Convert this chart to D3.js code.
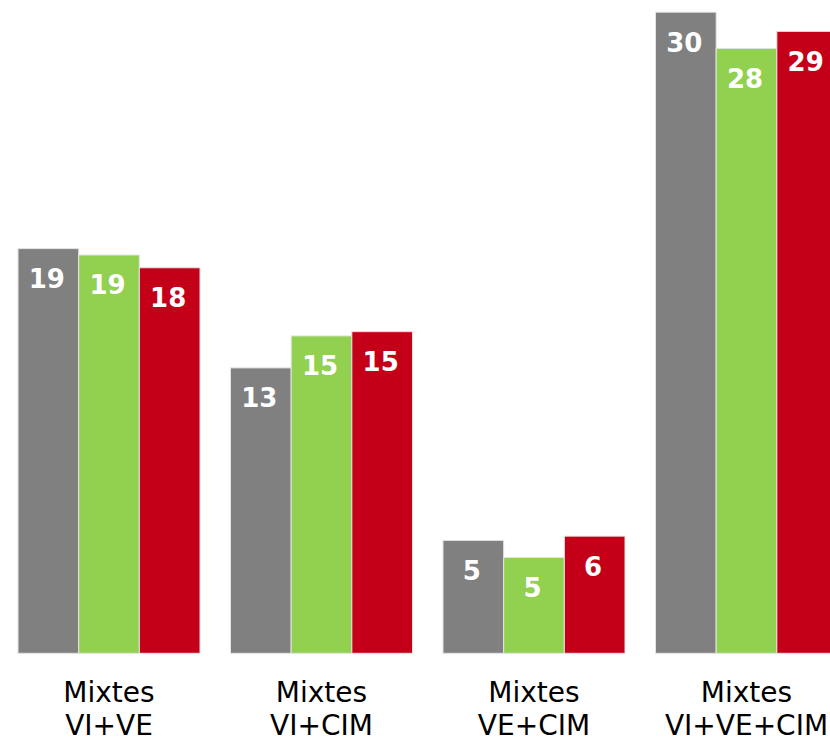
<!DOCTYPE html>
<html>
<head>
<meta charset="utf-8">
<script src="https://cdn.jsdelivr.net/npm/d3@7"></script>
<style>
html, body { margin: 0; padding: 0; background: #fff; overflow: hidden; }
svg { display: block; }
</style>
</head>
<body>
<script>
const categories = [["Mixtes", "VI+VE"], ["Mixtes", "VI+CIM"], ["Mixtes", "VE+CIM"], ["Mixtes", "VI+VE+CIM"]];
const seriesNames = ["s1", "s2", "s3"];
const seriesColors = ["#808080", "#92d050", "#c40018"];
const values1 = [19.0, 13.4, 5.3, 30.1];
const values2 = [18.7, 14.9, 4.5, 28.4];
const values3 = [18.1, 15.1, 5.5, 29.2];

const W = 830, H = 739;
const svg = d3.select("body").append("svg").attr("width", W).attr("height", H);

const allSeries = [values1, values2, values3];
const catKeys = categories.map((c, i) => i);

const x0 = d3.scaleBand().domain(catKeys).range([18, 837.5]).paddingInner(0.1435).paddingOuter(0);
const x1 = d3.scaleBand().domain(seriesNames).range([0, x0.bandwidth()]).padding(0);
const y = d3.scaleLinear().domain([0, 30]).range([653.3, 653.3 - 21.3 * 30]);

const data = [];
catKeys.forEach(ci => {
  seriesNames.forEach((s, si) => {
    data.push({ ci, s, si, v: allSeries[si][ci] });
  });
});

const g = svg.append("g");
g.selectAll("rect").data(data).enter().append("rect")
  .attr("x", d => x0(d.ci) + x1(d.s))
  .attr("y", d => y(d.v))
  .attr("width", x1.bandwidth())
  .attr("height", d => y(0) - y(d.v))
  .attr("fill", d => seriesColors[d.si])
  .attr("stroke", "#e4e4e4")
  .attr("stroke-width", 1);

g.selectAll("text.val").data(data).enter().append("text")
  .attr("class", "val")
  .attr("x", d => x0(d.ci) + x1(d.s) + x1.bandwidth() / 2 - 1.5)
  .attr("y", d => y(d.v) + 39.5)
  .attr("text-anchor", "middle")
  .attr("fill", "#fff")
  .attr("font-family", "'DejaVu Sans', Verdana, sans-serif")
  .attr("font-weight", "bold")
  .attr("font-size", 26)
  .text(d => Math.round(d.v));

const lab = svg.append("g").selectAll("text.cat").data(catKeys).enter().append("text")
  .attr("class", "cat")
  .attr("text-anchor", "middle")
  .attr("fill", "#000")
  .attr("font-family", "'DejaVu Sans', Verdana, sans-serif")
  .attr("font-size", 28);
lab.each(function(ci) {
  const t = d3.select(this);
  const cx = x0(ci) + x0.bandwidth() / 2;
  categories[ci].forEach((line, li) => {
    t.append("tspan").attr("x", cx).attr("y", 702 + li * 33).text(line);
  });
});
</script>
</body>
</html>
